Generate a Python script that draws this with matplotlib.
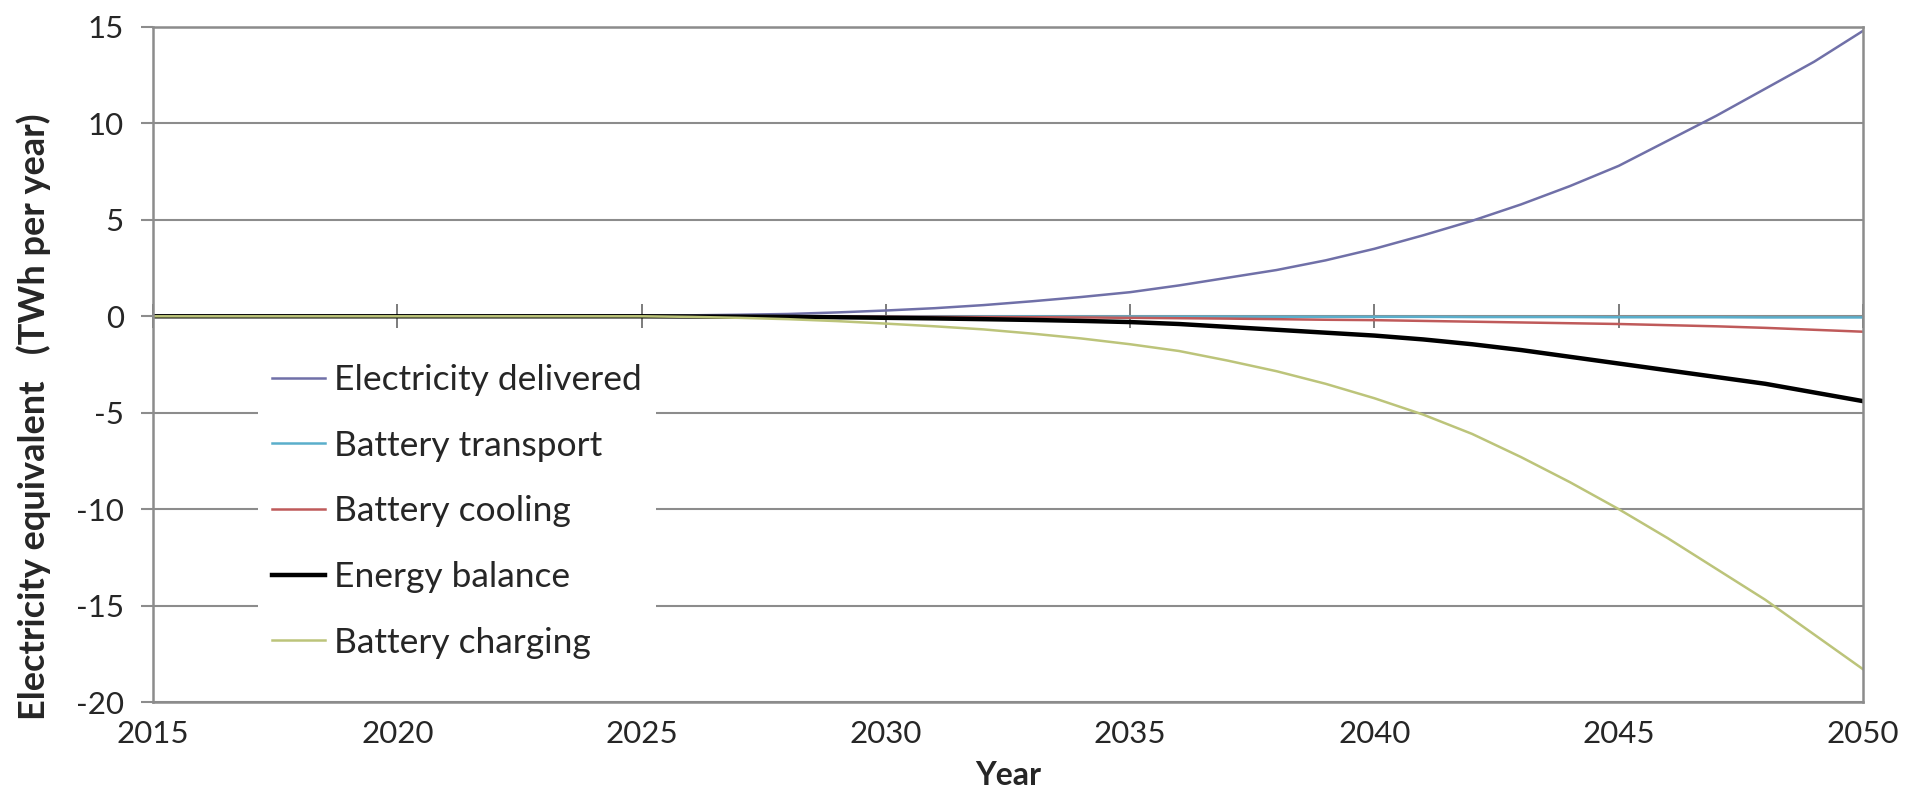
import matplotlib.pyplot as plt

plt.rcParams['font.family'] = ['Lato', 'DejaVu Sans']
plt.rcParams['axes.unicode_minus'] = False

years = list(range(2015, 2051))

# values, TWh per year
electricity_delivered = [0, 0, 0, 0, 0, 0, 0, 0, 0.02, 0.03, 0.03,
                         0.05, 0.08, 0.12, 0.2, 0.3, 0.42, 0.58, 0.78, 1.0, 1.25,
                         1.6, 2.0, 2.4, 2.9, 3.5, 4.2, 4.95, 5.8, 6.75, 7.8,
                         9.1, 10.4, 11.8, 13.2, 14.8]
battery_transport = [0, 0, 0, 0, 0, 0, 0, 0, 0, 0, 0,
                     0, 0, 0, 0, -0.01, -0.01, -0.01, -0.01, -0.02, -0.02,
                     -0.02, -0.02, -0.03, -0.03, -0.03, -0.03, -0.04, -0.04, -0.04, -0.05,
                     -0.05, -0.05, -0.06, -0.06, -0.06]
battery_cooling = [0, 0, 0, 0, 0, 0, 0, 0, 0, 0, 0,
                   0, 0, 0, -0.01, -0.02, -0.03, -0.04, -0.05, -0.06, -0.08,
                   -0.1, -0.12, -0.15, -0.18, -0.2, -0.24, -0.28, -0.32, -0.36, -0.4,
                   -0.46, -0.52, -0.6, -0.7, -0.8]
energy_balance = [0, 0, 0, 0, 0, 0, 0, 0, 0, 0, 0,
                  -0.01, -0.02, -0.03, -0.05, -0.08, -0.11, -0.15, -0.19, -0.24, -0.3,
                  -0.4, -0.55, -0.7, -0.85, -1.0, -1.2, -1.45, -1.75, -2.1, -2.45,
                  -2.8, -3.15, -3.5, -3.95, -4.4]
battery_charging = [0, 0, 0, 0, 0, 0, 0, 0, 0, 0, 0,
                    -0.03, -0.08, -0.15, -0.25, -0.38, -0.52, -0.68, -0.9, -1.15, -1.45,
                    -1.8, -2.3, -2.85, -3.5, -4.25, -5.1, -6.1, -7.3, -8.6, -10.0,
                    -11.5, -13.1, -14.7, -16.5, -18.3]

series = [
    ("Electricity delivered", electricity_delivered, "#7070a8", 1.8),
    ("Battery transport", battery_transport, "#5aaecb", 1.8),
    ("Battery cooling", battery_cooling, "#bf5a5a", 1.8),
    ("Energy balance", energy_balance, "#000000", 3.2),
    ("Battery charging", battery_charging, "#bcc47a", 1.8),
]

grey = "#8c8c8c"
txt = "#262626"

fig = plt.figure(figsize=(19.23, 7.91), dpi=100)
ax = fig.add_axes([153 / 1923, 1 - 702 / 791, 1710 / 1923, 675 / 791])

ax.set_xlim(2015, 2050)
ax.set_ylim(-20, 15)
ax.set_xticks(range(2015, 2051, 5))
ax.set_yticks(range(-20, 16, 5))
ax.grid(axis="y", color=grey, linewidth=1.5)
ax.set_axisbelow(True)

for name, vals, col, lw in series:
    ax.plot(years, vals, color=col, linewidth=lw, label=name)

for s in ax.spines.values():
    s.set_color(grey)
    s.set_linewidth(1.8)

ax.tick_params(axis="x", length=0, pad=13, labelsize=22.5, labelcolor=txt)
ax.tick_params(axis="y", length=9, width=1.5, color=grey, direction="out", pad=12,
               labelsize=22.5, labelcolor=txt)

# category axis crossing at zero
ylo, yhi = ax.get_ylim()
zero_ax = ax.secondary_xaxis((0 - ylo) / (yhi - ylo))
zero_ax.set_xticks(range(2015, 2051, 5))
zero_ax.set_xticklabels([])
zero_ax.tick_params(direction="inout", length=17, width=1.2, color="#666666")
zero_ax.spines["bottom"].set_color("#555555")
zero_ax.spines["bottom"].set_linewidth(1.6)

ax.set_xlabel("Year", fontsize=23, fontweight="bold", color=txt, labelpad=9)
ax.set_ylabel("Electricity equivalent   (TWh per year)", fontsize=26,
              fontweight="bold", color=txt)
ax.yaxis.set_label_coords(-0.0594, 0.422)

leg = ax.legend(loc="upper left", bbox_to_anchor=(0.0614, 0.5215), fontsize=25.5,
                frameon=True, facecolor="white", edgecolor="none", framealpha=1,
                handlelength=1.5, handletextpad=0.25, labelspacing=0.95,
                borderpad=0.4, borderaxespad=0)
for t in leg.get_texts():
    t.set_color(txt)

fig.savefig("out.png", dpi=100)
